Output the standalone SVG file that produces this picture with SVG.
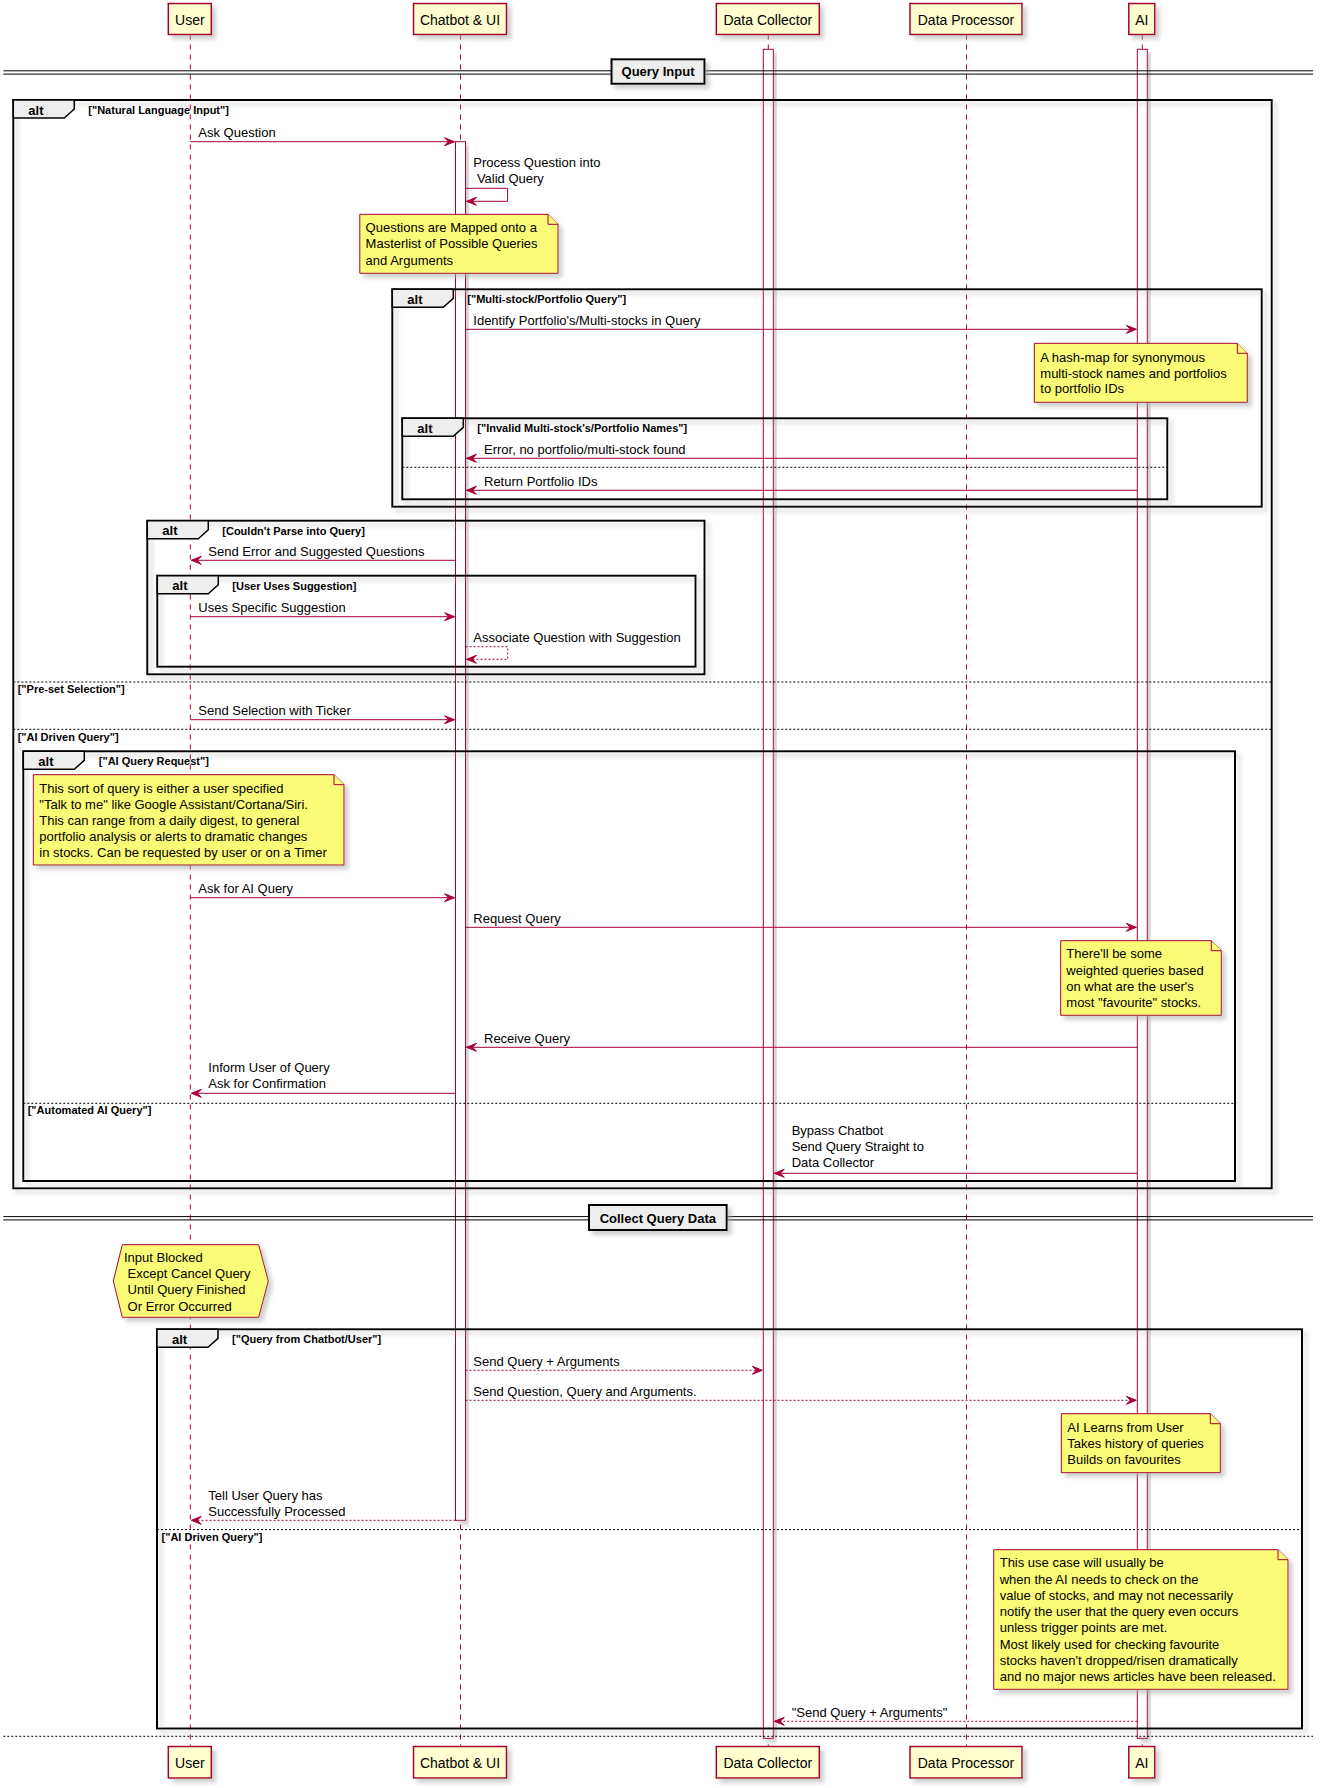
<svg xmlns="http://www.w3.org/2000/svg" width="1323" height="1788" viewBox="0 0 1323 1788">
<style>
text{font-family:"Liberation Sans",Arial,sans-serif;fill:#000000}
.t13{font-size:13px}
.t14{font-size:14px}
.b13{font-size:13px;font-weight:bold}
.b11{font-size:11px;font-weight:bold}
.pbox{fill:#FEFECE;stroke:#A80036;stroke-width:1.5}
.life{stroke:#A80036;stroke-width:1;stroke-dasharray:5,5;fill:none}
.act{fill:#FFFFFF;stroke:#A80036;stroke-width:1}
.msg{stroke:#A80036;stroke-width:1;fill:none}
.dash{stroke-dasharray:2,2}
.note{fill:#FBFB77;stroke:#A80036;stroke-width:1}
.frame{fill:none;stroke:#000000;stroke-width:2}
.tab{fill:#EEEEEE;stroke:#000000;stroke-width:1.5}
.sep{stroke:#000000;stroke-width:1;stroke-dasharray:2,2;fill:none}
.dline{stroke:#000000;stroke-width:1;fill:none}
.dbox{fill:#EEEEEE;stroke:#000000;stroke-width:2}
.sh{filter:url(#sh)}
</style>
<defs>
<filter id="sh" x="-0.2" y="-0.2" width="1.5" height="1.5" filterUnits="objectBoundingBox">
<feGaussianBlur in="SourceAlpha" stdDeviation="2" result="b"/>
<feColorMatrix in="b" type="matrix" values="0 0 0 0 0.4  0 0 0 0 0.4  0 0 0 0 0.4  0 0 0 0.55 0" result="c"/>
<feOffset in="c" dx="4" dy="4" result="o"/>
<feMerge><feMergeNode in="o"/><feMergeNode in="SourceGraphic"/></feMerge>
</filter>
<marker id="ah" viewBox="-1 -1 12 10" refX="10" refY="4" markerWidth="12" markerHeight="10" markerUnits="userSpaceOnUse" orient="auto">
<path d="M0,0 L10,4 L0,8 L4,4 Z" fill="#A80036" stroke="#A80036" stroke-width="1" stroke-linejoin="miter"/>
</marker>
</defs>
<rect x="0" y="0" width="1323" height="1788" fill="#FFFFFF"/>

<g id="lifelines">
<line class="life" x1="190.3" y1="34.5" x2="190.3" y2="1746.5"/>
<line class="life" x1="460.5" y1="34.5" x2="460.5" y2="1746.5"/>
<line class="life" x1="768.3" y1="34.5" x2="768.3" y2="1746.5"/>
<line class="life" x1="966.5" y1="34.5" x2="966.5" y2="1746.5"/>
<line class="life" x1="1142.3" y1="34.5" x2="1142.3" y2="1746.5"/>
</g>

<g id="activations">
<rect class="act sh" x="455.5" y="141.7" width="10" height="1378.6"/>
<rect class="act sh" x="763.3" y="49.3" width="10" height="1689"/>
<rect class="act sh" x="1137.3" y="49.3" width="10" height="1689"/>
</g>

<g id="frame-natural-language">
<rect class="frame sh" x="13.3" y="100" width="1258.4" height="1088.3"/>
<polygon class="tab" points="13.3,100 74.3,100 74.3,109 64.3,118 13.3,118"/>
<text class="b13" x="28.3" y="114.5">alt</text>
<text class="b11" x="88.3" y="113.8">["Natural Language Input"]</text>
<line class="sep" x1="13.3" y1="682" x2="1271.7" y2="682"/>
<text class="b11" x="17.7" y="693">["Pre-set Selection"]</text>
<line class="sep" x1="13.3" y1="729.3" x2="1271.7" y2="729.3"/>
<text class="b11" x="17.7" y="740.5">["AI Driven Query"]</text>
</g>

<g id="frame-multi-stock">
<rect class="frame sh" x="392.3" y="289.3" width="869.4" height="217.4"/>
<polygon class="tab" points="392.3,289.3 453.3,289.3 453.3,298.3 443.3,307.3 392.3,307.3"/>
<text class="b13" x="407.3" y="303.8">alt</text>
<text class="b11" x="467.3" y="303.1">["Multi-stock/Portfolio Query"]</text>
</g>

<g id="frame-invalid-names">
<rect class="frame sh" x="402.3" y="418.3" width="765" height="81"/>
<polygon class="tab" points="402.3,418.3 463.3,418.3 463.3,427.3 453.3,436.3 402.3,436.3"/>
<text class="b13" x="417.3" y="432.8">alt</text>
<text class="b11" x="477.3" y="432.1">["Invalid Multi-stock's/Portfolio Names"]</text>
<line class="sep" x1="402.3" y1="467.3" x2="1167.3" y2="467.3"/>
</g>

<g id="frame-couldnt-parse">
<rect class="frame sh" x="147.3" y="520.7" width="557.2" height="153.6"/>
<polygon class="tab" points="147.3,520.7 208.3,520.7 208.3,529.7 198.3,538.7 147.3,538.7"/>
<text class="b13" x="162.3" y="535.2">alt</text>
<text class="b11" x="222.3" y="534.5">[Couldn't Parse into Query]</text>
</g>

<g id="frame-user-uses-suggestion">
<rect class="frame sh" x="157.3" y="575.7" width="538.2" height="91"/>
<polygon class="tab" points="157.3,575.7 218.3,575.7 218.3,584.7 208.3,593.7 157.3,593.7"/>
<text class="b13" x="172.3" y="590.2">alt</text>
<text class="b11" x="232.3" y="589.5">[User Uses Suggestion]</text>
</g>

<g id="frame-ai-query-request">
<rect class="frame sh" x="23.3" y="751.3" width="1211.7" height="429.7"/>
<polygon class="tab" points="23.3,751.3 84.3,751.3 84.3,760.3 74.3,769.3 23.3,769.3"/>
<text class="b13" x="38.3" y="765.8">alt</text>
<text class="b11" x="98.8" y="764.9">["AI Query Request"]</text>
<line class="sep" x1="23.3" y1="1103.3" x2="1235" y2="1103.3"/>
<text class="b11" x="27.7" y="1114.3">["Automated AI Query"]</text>
</g>

<g id="frame-query-from-chatbot">
<rect class="frame sh" x="157" y="1329.3" width="1145" height="399.2"/>
<polygon class="tab" points="157,1329.3 218,1329.3 218,1338.3 208,1347.3 157,1347.3"/>
<text class="b13" x="172" y="1343.8">alt</text>
<text class="b11" x="232" y="1343.1">["Query from Chatbot/User"]</text>
<line class="sep" x1="157" y1="1529.6" x2="1302" y2="1529.6"/>
<text class="b11" x="161.5" y="1540.6">["AI Driven Query"]</text>
</g>

<g id="divider-query-input">
<line class="dline" x1="3.3" y1="70.8" x2="1313" y2="70.8"/>
<line class="dline" x1="3.3" y1="74.1" x2="1313" y2="74.1"/>
<rect class="dbox sh" x="611.5" y="59.3" width="93" height="24.5"/>
<text class="b13" x="658" y="76.4" text-anchor="middle">Query Input</text>
</g>

<g id="divider-collect-query-data">
<line class="dline" x1="3.3" y1="1216.6" x2="1313" y2="1216.6"/>
<line class="dline" x1="3.3" y1="1219.9" x2="1313" y2="1219.9"/>
<rect class="dbox sh" x="589" y="1205" width="137.7" height="25"/>
<text class="b13" x="657.8" y="1222.5" text-anchor="middle">Collect Query Data</text>
</g>

<line id="end-separator" class="sep" x1="3.3" y1="1736.3" x2="1313" y2="1736.3"/>

<g id="connectors">
<path class="msg" d="M190.3,141.7 H454.5" marker-end="url(#ah)"/>
<text class="t13" x="198.3" y="137">Ask Question</text>

<path class="msg" d="M465.5,188.3 H507.6 V201.3 H466.5" marker-end="url(#ah)"/>
<text class="t13" x="473.3" y="167">Process Question into</text>
<text class="t13" x="473.3" y="183" xml:space="preserve"> Valid Query</text>

<path class="msg" d="M465.5,329.3 H1136.3" marker-end="url(#ah)"/>
<text class="t13" x="473.3" y="324.7">Identify Portfolio's/Multi-stocks in Query</text>

<path class="msg" d="M1137.3,458.3 H466.5" marker-end="url(#ah)"/>
<text class="t13" x="484" y="453.7">Error, no portfolio/multi-stock found</text>

<path class="msg" d="M1137.3,490.3 H466.5" marker-end="url(#ah)"/>
<text class="t13" x="484" y="485.7">Return Portfolio IDs</text>

<path class="msg" d="M455.5,560.3 H191.3" marker-end="url(#ah)"/>
<text class="t13" x="208.3" y="555.7">Send Error and Suggested Questions</text>

<path class="msg" d="M190.3,616.7 H454.5" marker-end="url(#ah)"/>
<text class="t13" x="198.3" y="612.1">Uses Specific Suggestion</text>

<path class="msg dash" d="M465.5,646.7 H507.7 V659.3 H466.5" marker-end="url(#ah)"/>
<text class="t13" x="473.3" y="641.7">Associate Question with Suggestion</text>

<path class="msg" d="M190.3,719.7 H454.5" marker-end="url(#ah)"/>
<text class="t13" x="198.3" y="715.1">Send Selection with Ticker</text>

<path class="msg" d="M190.3,897.7 H454.5" marker-end="url(#ah)"/>
<text class="t13" x="198.3" y="893.1">Ask for AI Query</text>

<path class="msg" d="M465.5,927.3 H1136.3" marker-end="url(#ah)"/>
<text class="t13" x="473.3" y="922.7">Request Query</text>

<path class="msg" d="M1137.3,1047.3 H466.5" marker-end="url(#ah)"/>
<text class="t13" x="484" y="1042.7">Receive Query</text>

<path class="msg" d="M455.5,1093.3 H191.3" marker-end="url(#ah)"/>
<text class="t13" x="208.3" y="1072.3">Inform User of Query</text>
<text class="t13" x="208.3" y="1088.3">Ask for Confirmation</text>

<path class="msg" d="M1137.3,1173.3 H774.3" marker-end="url(#ah)"/>
<text class="t13" x="791.7" y="1135">Bypass Chatbot</text>
<text class="t13" x="791.7" y="1151">Send Query Straight to</text>
<text class="t13" x="791.7" y="1167">Data Collector</text>

<path class="msg dash" d="M465.5,1370.3 H762.3" marker-end="url(#ah)"/>
<text class="t13" x="473.3" y="1365.7">Send Query + Arguments</text>

<path class="msg dash" d="M465.5,1400.3 H1136.3" marker-end="url(#ah)"/>
<text class="t13" x="473.3" y="1395.7">Send Question, Query and Arguments.</text>

<path class="msg dash" d="M455.5,1520.3 H191.3" marker-end="url(#ah)"/>
<text class="t13" x="208.3" y="1499.7">Tell User Query has</text>
<text class="t13" x="208.3" y="1515.5">Successfully Processed</text>

<path class="msg dash" d="M1137.3,1721.3 H774.3" marker-end="url(#ah)"/>
<text class="t13" x="791.7" y="1716.7">"Send Query + Arguments"</text>
</g>

<g id="note-masterlist">
<path class="note sh" d="M359.8,214.3 H548 L558,224.3 V273.3 H359.8 Z"/>
<path class="note" d="M548,214.3 V224.3 H558" fill="none"/>
<text class="t13" x="365.6" y="232.3">Questions are Mapped onto a</text>
<text class="t13" x="365.6" y="248.3">Masterlist of Possible Queries</text>
<text class="t13" x="365.6" y="264.5">and Arguments</text>
</g>

<g id="note-hashmap">
<path class="note sh" d="M1034.3,343.3 H1237.3 L1247.3,353.3 V402.3 H1034.3 Z"/>
<path class="note" d="M1237.3,343.3 V353.3 H1247.3" fill="none"/>
<text class="t13" x="1040.3" y="361.7">A hash-map for synonymous</text>
<text class="t13" x="1040.3" y="377.5">multi-stock names and portfolios</text>
<text class="t13" x="1040.3" y="393.3">to portfolio IDs</text>
</g>

<g id="note-ai-query">
<path class="note sh" d="M33.3,774.7 H334 L344,784.7 V865 H33.3 Z"/>
<path class="note" d="M334,774.7 V784.7 H344" fill="none"/>
<text class="t13" x="39.3" y="792.6">This sort of query is either a user specified</text>
<text class="t13" x="39.3" y="808.6">"Talk to me" like Google Assistant/Cortana/Siri.</text>
<text class="t13" x="39.3" y="824.8">This can range from a daily digest, to general</text>
<text class="t13" x="39.3" y="840.8">portfolio analysis or alerts to dramatic changes</text>
<text class="t13" x="39.3" y="856.8">in stocks. Can be requested by user or on a Timer</text>
</g>

<g id="note-weighted">
<path class="note sh" d="M1060.7,940.7 H1211.3 L1221.3,950.7 V1015.3 H1060.7 Z"/>
<path class="note" d="M1211.3,940.7 V950.7 H1221.3" fill="none"/>
<text class="t13" x="1066.3" y="958.3">There'll be some</text>
<text class="t13" x="1066.3" y="974.5">weighted queries based</text>
<text class="t13" x="1066.3" y="990.6">on what are the user's</text>
<text class="t13" x="1066.3" y="1006.7">most "favourite" stocks.</text>
</g>

<g id="note-input-blocked">
<polygon class="note sh" points="113.3,1281 122.3,1244.7 258.7,1244.7 268.3,1281 258.7,1317.3 122.3,1317.3"/>
<text class="t13" x="124" y="1261.7">Input Blocked</text>
<text class="t13" x="124" y="1277.9" xml:space="preserve"> Except Cancel Query</text>
<text class="t13" x="124" y="1294.3" xml:space="preserve"> Until Query Finished</text>
<text class="t13" x="124" y="1310.6" xml:space="preserve"> Or Error Occurred</text>
</g>

<g id="note-ai-learns">
<path class="note sh" d="M1061.3,1413.7 H1210.3 L1220.3,1423.7 V1472.7 H1061.3 Z"/>
<path class="note" d="M1210.3,1413.7 V1423.7 H1220.3" fill="none"/>
<text class="t13" x="1067.3" y="1431.7">AI Learns from User</text>
<text class="t13" x="1067.3" y="1448">Takes history of queries</text>
<text class="t13" x="1067.3" y="1464.3">Builds on favourites</text>
</g>

<g id="note-use-case">
<path class="note sh" d="M993.7,1549.7 H1278 L1288,1559.7 V1689.3 H993.7 Z"/>
<path class="note" d="M1278,1549.7 V1559.7 H1288" fill="none"/>
<text class="t13" x="999.7" y="1567.3">This use case will usually be</text>
<text class="t13" x="999.7" y="1583.5">when the AI needs to check on the</text>
<text class="t13" x="999.7" y="1599.8">value of stocks, and may not necessarily</text>
<text class="t13" x="999.7" y="1616">notify the user that the query even occurs</text>
<text class="t13" x="999.7" y="1632.3">unless trigger points are met.</text>
<text class="t13" x="999.7" y="1648.5">Most likely used for checking favourite</text>
<text class="t13" x="999.7" y="1664.8">stocks haven't dropped/risen dramatically</text>
<text class="t13" x="999.7" y="1681">and no major news articles have been released.</text>
</g>

<g id="participant-user">
<rect class="pbox sh" x="168.3" y="3.5" width="43" height="31"/>
<text class="t14" x="189.8" y="25" text-anchor="middle">User</text>
<rect class="pbox sh" x="168.3" y="1746.5" width="43" height="31.5"/>
<text class="t14" x="189.8" y="1768" text-anchor="middle">User</text>
</g>
<g id="participant-chatbot">
<rect class="pbox sh" x="413.5" y="3.5" width="93" height="31"/>
<text class="t14" x="460" y="25" text-anchor="middle">Chatbot &amp; UI</text>
<rect class="pbox sh" x="413.5" y="1746.5" width="93" height="31.5"/>
<text class="t14" x="460" y="1768" text-anchor="middle">Chatbot &amp; UI</text>
</g>
<g id="participant-data-collector">
<rect class="pbox sh" x="716.3" y="3.5" width="103" height="31"/>
<text class="t14" x="767.8" y="25" text-anchor="middle">Data Collector</text>
<rect class="pbox sh" x="716.3" y="1746.5" width="103" height="31.5"/>
<text class="t14" x="767.8" y="1768" text-anchor="middle">Data Collector</text>
</g>
<g id="participant-data-processor">
<rect class="pbox sh" x="910" y="3.5" width="112" height="31"/>
<text class="t14" x="966" y="25" text-anchor="middle">Data Processor</text>
<rect class="pbox sh" x="910" y="1746.5" width="112" height="31.5"/>
<text class="t14" x="966" y="1768" text-anchor="middle">Data Processor</text>
</g>
<g id="participant-ai">
<rect class="pbox sh" x="1128.8" y="3.5" width="26" height="31"/>
<text class="t14" x="1141.8" y="25" text-anchor="middle">AI</text>
<rect class="pbox sh" x="1128.8" y="1746.5" width="26" height="31.5"/>
<text class="t14" x="1141.8" y="1768" text-anchor="middle">AI</text>
</g>
</svg>
